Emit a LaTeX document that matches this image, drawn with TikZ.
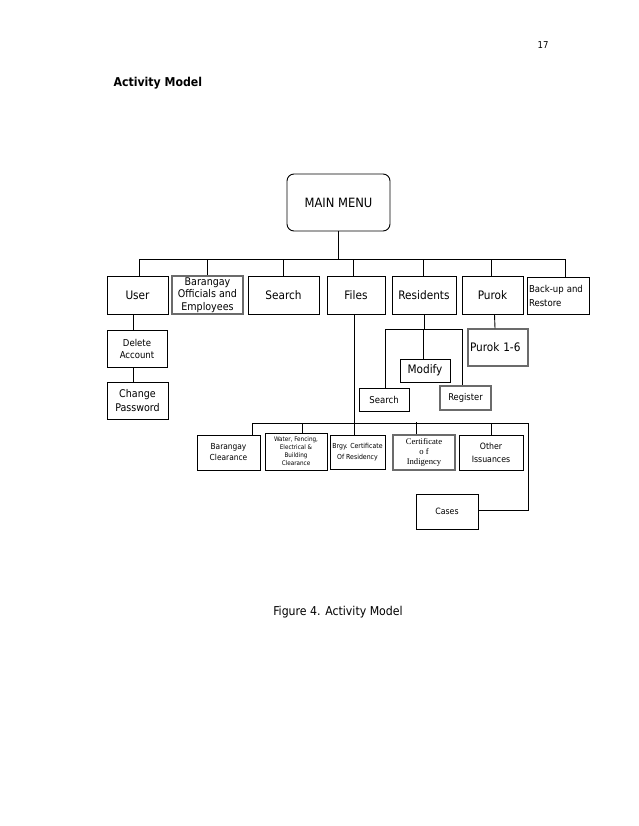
\documentclass[tikz,border=0pt]{standalone}
\usepackage{fontspec}
\setmainfont{DejaVu Sans Condensed}
\newfontfamily\timesfam{Liberation Serif}
\usepackage{tikz}
\usetikzlibrary{positioning,calc}

\begin{document}
\begin{tikzpicture}[x=1pt,y=-1pt,
   box/.style={draw=black,line width=0.9pt,inner sep=1pt,align=center},
   greybox/.style={box,draw=black!58,line width=1.4pt},
   menu/.style={box,rounded corners=7pt},
   link/.style={draw=black,line width=0.9pt}]
  \useasboundingbox (0,0) rectangle (638,826);
  % page texts
  \node (page) at (543,45) {\fontsize{9.5}{11}\selectfont 17};
  \node (title) [anchor=west] at (110,83) {\fontsize{12.2}{14}\selectfont\bfseries Activity Model};
  \node (caption) at (338,612) {\fontsize{12.2}{14}\selectfont Figure 4. Activity Model};
  % main menu and first level
  \path (338.5,202.5) node (main) [menu,minimum width=103,minimum height=57,font=\fontsize{12.8}{14}\selectfont] {MAIN MENU};
  \path (137.5,295) node (user) [box,minimum width=61,minimum height=38,font=\fontsize{11.7}{13}\selectfont] {User}
        (207.5,295) node (offic) [greybox,minimum width=71,minimum height=38,font=\fontsize{10.6}{12.5}\selectfont] {Barangay\\Officials and\\Employees}
        (283.5,295) node (search) [box,minimum width=71,minimum height=38,font=\fontsize{11.7}{13}\selectfont] {Search}
        (356,295) node (files) [box,minimum width=58,minimum height=38,font=\fontsize{11.7}{13}\selectfont] {Files}
        (424,295) node (resid) [box,minimum width=64,minimum height=38,font=\fontsize{11.7}{13}\selectfont] {Residents}
        (492.5,295) node (purok) [box,minimum width=61,minimum height=38,font=\fontsize{11.7}{13}\selectfont] {Purok}
        (558,295.5) node (backup) [box,align=left,text width=58,minimum width=62,minimum height=37,font=\fontsize{9.5}{14}\selectfont] {Back-up and\\ Restore};
  \draw [link] (main.south) -- ++(0,28) coordinate (tbus);
  \draw [link] (tbus) -| ([xshift=1.5pt]user.north);
  \draw [link] (tbus) -| (offic.north);
  \draw [link] (tbus) -| (search.north);
  \draw [link] (tbus) -| ([xshift=-3pt]files.north);
  \draw [link] (tbus) -| ([xshift=-1pt]resid.north);
  \draw [link] (tbus) -| ([xshift=-1.5pt]purok.north);
  \draw [link] (tbus) -| ([xshift=7pt]backup.north);
  % user
  \path (137,348.5) node (delacc) [box,minimum width=60,minimum height=37,font=\fontsize{9.5}{12}\selectfont] {Delete\\Account}
        (137.5,400.5) node (chpass) [box,minimum width=61,minimum height=37,font=\fontsize{10.6}{14}\selectfont] {Change\\Password};
  \draw [link] ([xshift=-4.5pt]user.south) -- ([xshift=-4pt]delacc.north);
  \draw [link] ([xshift=-4pt]delacc.south) -- ([xshift=-4.5pt]chpass.north);
  % residents
  \path (425,370.5) node (modify) [box,minimum width=50,minimum height=23,font=\fontsize{11.7}{13}\selectfont] {Modify}
        (384,399.5) node (rsearch) [box,minimum width=50,minimum height=23,font=\fontsize{9.5}{11}\selectfont] {Search}
        (465.5,398) node (register) [greybox,minimum width=51,minimum height=24,font=\fontsize{9.3}{11}\selectfont] {Register};
  \draw [link] (resid.south) -- ++(0,15) coordinate (rbus);
  \draw [link] (rbus) -| ([xshift=1pt]rsearch.north);
  \draw [link] (rbus) -| ([xshift=-2pt]modify.north);
  \draw [link] (rbus) -| ([xshift=-3.5pt]register.north);
  % purok
  \path (498,347.5) node (puroks) [greybox,align=left,text width=56,minimum width=60,minimum height=37,font=\fontsize{11.7}{13}\selectfont] {Purok 1-6};
  \draw [link] ([xshift=2pt]purok.south) -- ([xshift=-3pt]puroks.north);
  % files
  \path (228.5,452.5) node (bclear) [box,minimum width=63,minimum height=35,font=\fontsize{8.3}{11}\selectfont] {Barangay\\Clearance}
        (296,451.5) node (water) [box,minimum width=62,minimum height=37,font=\fontsize{6.3}{8}\selectfont] {Water, Fencing,\\Electrical \&\\Building\\Clearance}
        (357.5,452) node (resdcy) [box,minimum width=55,minimum height=34,font=\fontsize{6.9}{11}\selectfont] {Brgy. Certificate\\Of Residency}
        (424,452.5) node (indig) [greybox,minimum width=62,minimum height=35,font=\timesfam\fontsize{8.6}{10}\selectfont] {Certificate\\o f\\Indigency}
        (491,452.5) node (other) [box,minimum width=64,minimum height=35,font=\fontsize{8.7}{13}\selectfont] {Other\\Issuances}
        (447,511.5) node (cases) [box,minimum width=62,minimum height=35,font=\fontsize{8.7}{10}\selectfont] {Cases};
  \draw [link] ([xshift=-2pt]files.south) |- (528,423) coordinate (fbusR);
  \draw [link] ([xshift=23.5pt]bclear.north) |- (fbusR);
  \draw [link] ([xshift=6pt]water.north) |- (fbusR);
  \draw [link] ([xshift=-3.5pt]resdcy.north) -- ++(0,-12);
  \draw [link] ([xshift=-8pt]indig.north) -- ++(0,-12);
  \draw [link] (other.north) -- ++(0,-12);
  \draw [link] ([yshift=1.5pt]cases.east) -| (fbusR);
\end{tikzpicture}
\end{document}
